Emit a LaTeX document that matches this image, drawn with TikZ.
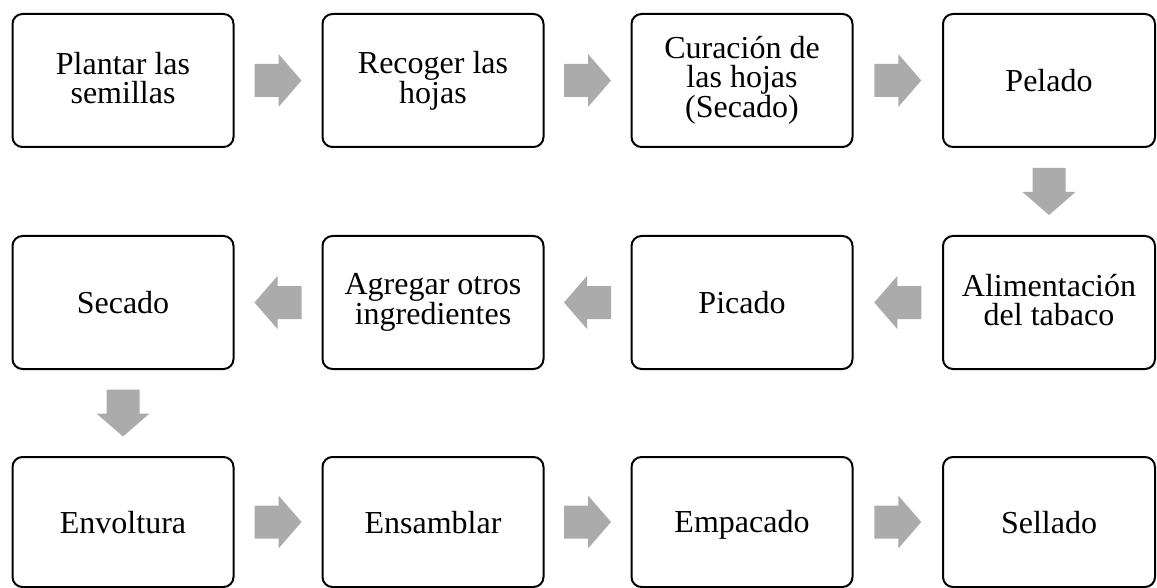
\documentclass[tikz,border=0pt]{standalone}
\usepackage{fontspec}
\setmainfont{Liberation Serif}
\usetikzlibrary{calc}
\definecolor{arrowgray}{HTML}{ABABAB}
\newcommand{\boxstrut}{\rule[-5pt]{0pt}{32pt}}
\tikzset{
  stepbox/.style={draw=black, line width=2pt, rounded corners=10pt, fill=white,
    minimum width=221pt, minimum height=133pt, inner sep=0pt, align=center,
    font=\fontsize{32}{29}\selectfont,
    execute at begin node={\boxstrut}, execute at end node={\boxstrut}},
  harrow/.pic={\fill[arrowgray] (-23.5,-16.5) -- (0.5,-16.5) -- (0.5,-26.5) -- (23.5,0) -- (0.5,26.5) -- (0.5,16.5) -- (-23.5,16.5) -- cycle;}
}
\begin{document}
\begin{tikzpicture}[x=1pt,y=-1pt]
\useasboundingbox (0,0) rectangle (1157,588);
% row 1
\node[stepbox] (n1) at (123,80.5) {Plantar las\\semillas};
\node[stepbox] (n2) at (433,80.5) {Recoger las\\hojas};
\node[stepbox] (n3) at (742,80.5) {Curación de\\las hojas\\(Secado)};
\node[stepbox, minimum width=212pt] (n4) at (1049,80.5) {Pelado};
% row 2
\node[stepbox, minimum width=212pt] (n5) at (1049,302.5) {Alimentación\\del tabaco};
\node[stepbox] (n6) at (742,302.5) {Picado};
\node[stepbox] (n7) at (433,302.5) {Agregar otros\\ingredientes};
\node[stepbox] (n8) at (123,302.5) {Secado};
% row 3
\node[stepbox, minimum height=130pt] (n9) at (123,522) {Envoltura};
\node[stepbox, minimum height=130pt] (n10) at (433,522) {Ensamblar};
\node[stepbox, minimum height=130pt] (n11) at (742,522) {Empacado};
\node[stepbox, minimum width=212pt, minimum height=130pt] (n12) at (1049,522) {Sellado};
% arrows
\path ($(n1.east)!0.5!(n2.west)$) pic {harrow};
\path ($(n2.east)!0.5!(n3.west)$) pic {harrow};
\path ($(n3.east)!0.5!(n4.west)$) pic {harrow};
\path ($(n4.south)!0.5!(n5.north)$) pic[rotate=-90] {harrow};
\path ($(n5.west)!0.5!(n6.east)$) pic[rotate=180] {harrow};
\path ($(n6.west)!0.5!(n7.east)$) pic[rotate=180] {harrow};
\path ($(n7.west)!0.5!(n8.east)$) pic[rotate=180] {harrow};
\path ($(n8.south)!0.5!(n9.north)$) pic[rotate=-90] {harrow};
\path ($(n9.east)!0.5!(n10.west)$) pic {harrow};
\path ($(n10.east)!0.5!(n11.west)$) pic {harrow};
\path ($(n11.east)!0.5!(n12.west)$) pic {harrow};
\end{tikzpicture}
\end{document}
